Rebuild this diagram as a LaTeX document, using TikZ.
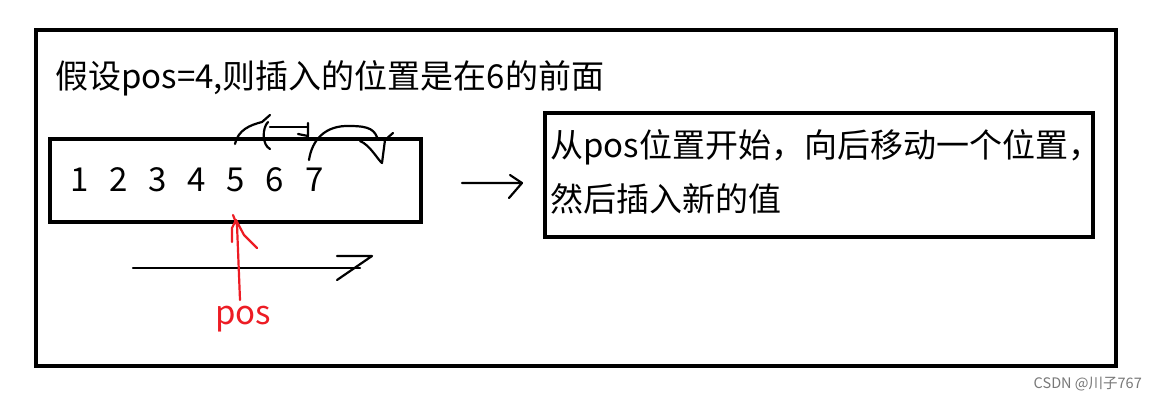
\documentclass[tikz,border=0pt]{standalone}
\usepackage{fontspec}
\setmainfont{Noto Sans CJK SC}
\definecolor{penred}{RGB}{237, 28, 36}
\definecolor{marktext}{RGB}{120, 120, 120}
\tikzset{
  frame/.style={draw=black, line width=4pt},
  pen/.style={draw=black, line width=2.2pt, line cap=round, line join=round},
  redpen/.style={draw=penred, line width=2.2pt, line cap=round, line join=round},
  bigtext/.style={anchor=west, inner sep=0pt, font=\fontsize{33}{38}\selectfont}
}
\begin{document}
\begin{tikzpicture}[x=1pt, y=-1pt]
  \useasboundingbox[fill=white] (0,0) rectangle (1157,400);
  % outer frame and the two boxes
  \draw[frame] (36,30) rectangle (1116,366);
  \draw[frame] (50,139) rectangle (421,222);
  \draw[frame] (545,113) rectangle (1093,237);
  \node[bigtext] (title) at (55,78) {假设pos=4,则插入的位置是在6的前面};
  % the numbers
  \foreach \v/\x in {1/80,2/119,3/158,4/197,5/236,6/275,7/315}
    \node[bigtext, anchor=center] (n\v) at (\x,180) {\v};
  \node[bigtext] (line1) at (550,147) {从pos位置开始，向后移动一个位置，};
  \node[bigtext] (line2) at (550,199) {然后插入新的值};
  % hand drawn arrows above the box
  \draw[pen] (235,144) .. controls (238,130) and (250,125) .. (262,122) -- (270,115);
  \draw[pen] (268,122) .. controls (262,128) and (262,145) .. (270,149);
  \draw[pen] (270,127) -- (308,127);
  \draw[pen] (308,123) -- (308,136) -- (298,134);
  \draw[pen] (309,160) .. controls (312,140) and (325,125) .. (350,126) .. controls (370,126) and (375,130) .. (378,140);
  \draw[pen] (360,141) .. controls (370,145) and (378,160) .. (382,163) -- (385,140) -- (393,133);
  % arrow between the boxes
  \coordinate (a1) at (462,183);
  \coordinate (a2) at (522,183);
  \draw[pen] (a1) -- (a2) -- (509,198);
  \draw[pen] (510,175) -- (a2);
  % long arrow below
  \coordinate (b1) at (133,268);
  \coordinate (b2) at (360,268);
  \draw[pen] (b1) -- (b2);
  \draw[pen] (337,256) -- (372,256) -- (337,280);
  % pos marker
  \node[anchor=center, inner sep=0pt, text=penred, font=\fontsize{33}{38}\selectfont] (pos) at (243,319) {pos};
  \draw[redpen] (240,300) -- (237,225) -- (233,215);
  \draw[redpen] (232,242) -- (232,228) -- (236,220) -- (244,235) -- (257,248);
  \node[anchor=east, inner sep=0pt, text=marktext, font=\fontsize{14.5}{17}\selectfont] (mark) at (1142,384) {CSDN @川子767};
\end{tikzpicture}
\end{document}
